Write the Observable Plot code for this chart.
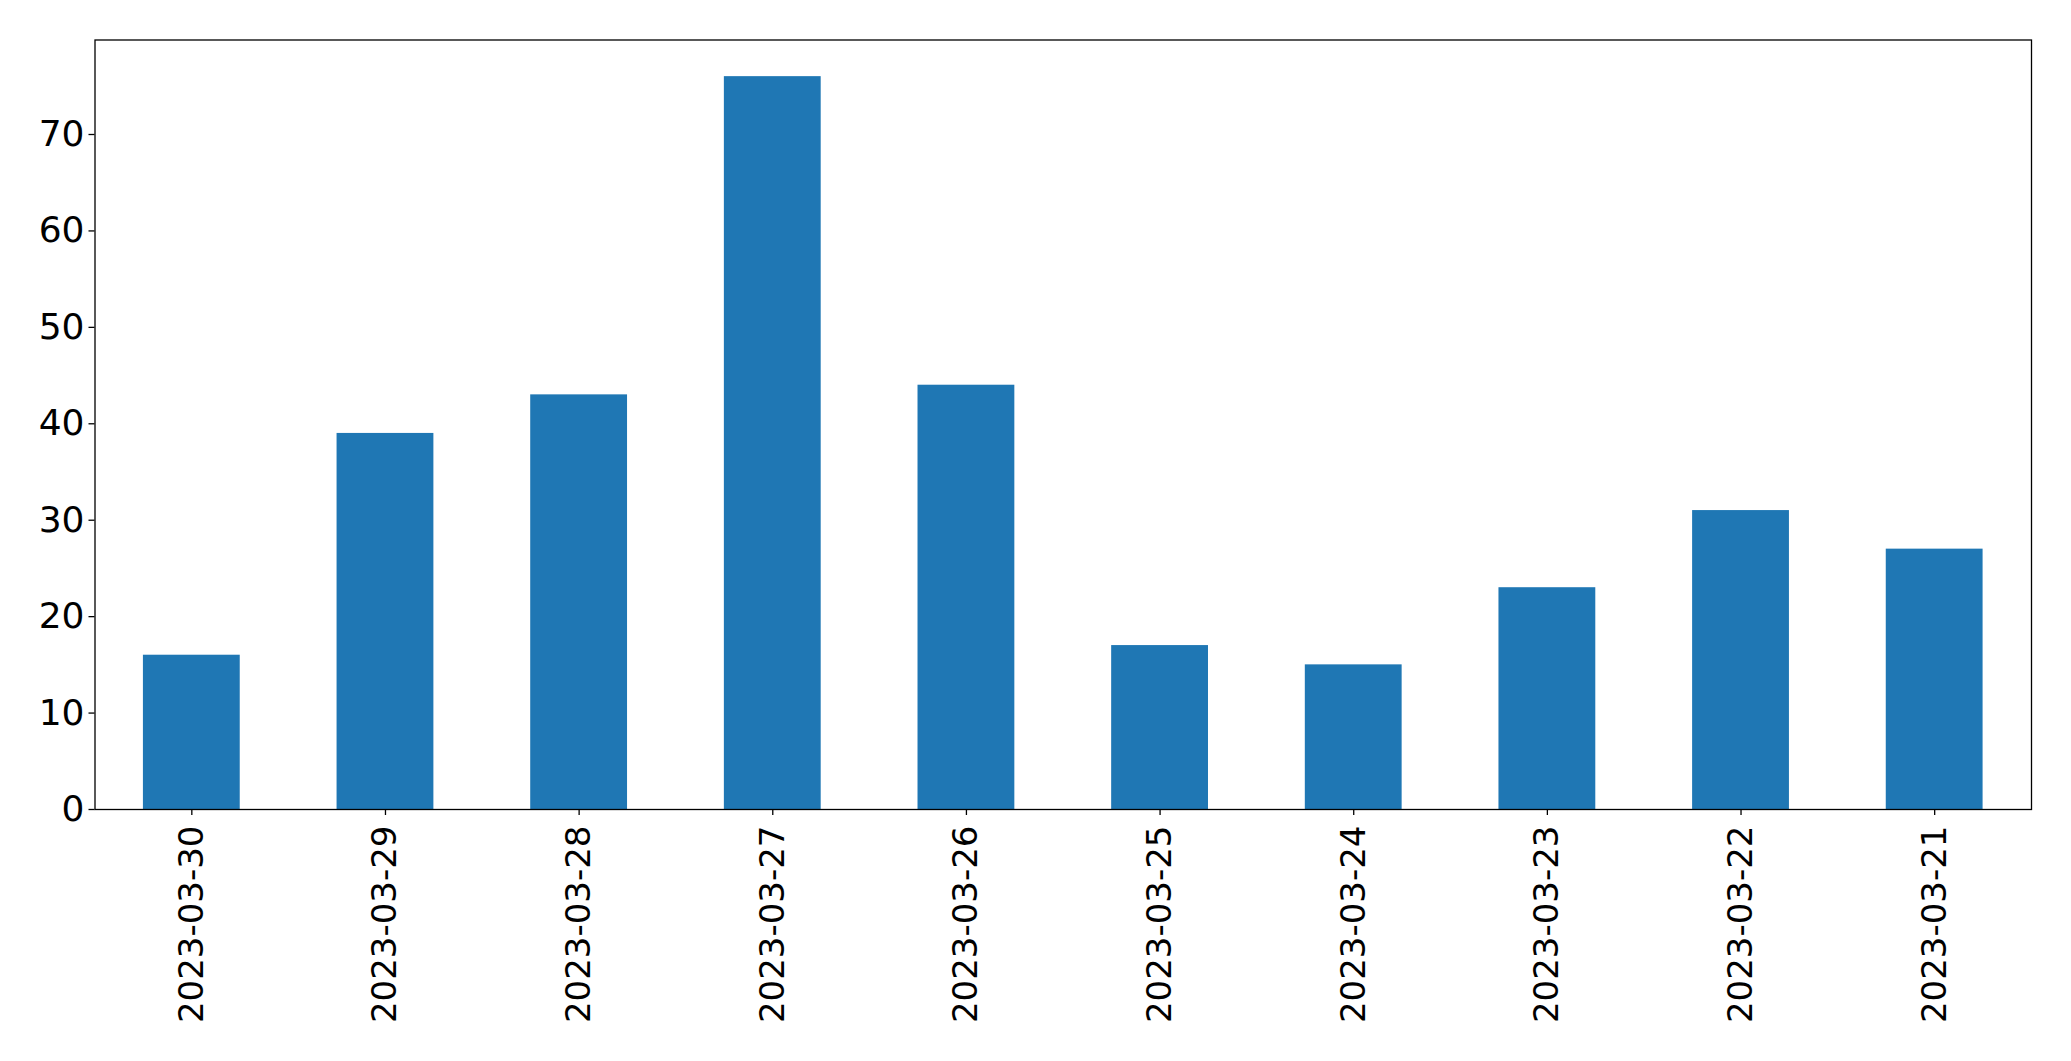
<!DOCTYPE html>
<html>
<head>
<meta charset="utf-8">
<script src="https://cdn.jsdelivr.net/npm/d3@7"></script>
<script src="https://cdn.jsdelivr.net/npm/@observablehq/plot@0.6"></script>
<style>
  html, body { margin: 0; padding: 0; background: #fff; }
  #chart svg { display: block; }
</style>
</head>
<body>
<div id="chart"></div>
<script>
const dates = ["2023-03-30", "2023-03-29", "2023-03-28", "2023-03-27", "2023-03-26",
               "2023-03-25", "2023-03-24", "2023-03-23", "2023-03-22", "2023-03-21"];
const counts = [16, 39, 43, 76, 44, 17, 15, 23, 31, 27];
const yTicks = [0, 10, 20, 30, 40, 50, 60, 70];

const data = dates.map((d, i) => ({date: d, count: counts[i]}));

const chart = Plot.plot({
  width: 2071,
  height: 1061,
  marginLeft: 94.5,
  marginRight: 40,
  marginTop: 39.5,
  marginBottom: 252,
  style: {fontFamily: "DejaVu Sans", fontSize: "34px", color: "#000", background: "#fff"},
  x: {type: "band", domain: dates, paddingInner: 0.5, paddingOuter: 0.25, round: false, label: null},
  y: {domain: [0, d3.max(counts) * 1.05], label: null},
  marks: [
    Plot.barY(data, {x: "date", y: "count", fill: "#1f77b4"}),
    Plot.frame({stroke: "#000", strokeWidth: 1.3}),
    Plot.axisY({ticks: yTicks, tickSize: 6, tickPadding: 4.5, fontSize: 36, tickFormat: d => String(d), label: null, strokeWidth: 1.3}),
    Plot.axisX({tickRotate: -90, tickSize: 6, tickPadding: 10, fontSize: 34, label: null, strokeWidth: 1.3})
  ]
});
document.getElementById("chart").appendChild(chart);
</script>
</body>
</html>
